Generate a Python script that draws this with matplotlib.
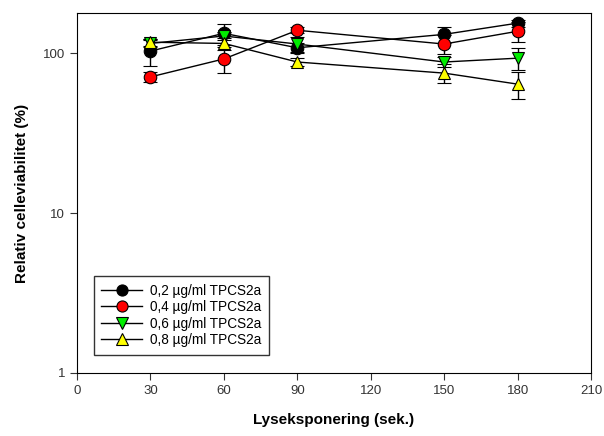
import numpy as np
import matplotlib.pyplot as plt
from matplotlib.ticker import FixedLocator, NullLocator
from matplotlib.lines import Line2D

plt.rcParams['font.family'] = ['Liberation Sans', 'DejaVu Sans']

x = [30, 60, 90, 150, 180]

c02 = [103, 133, 108, 131, 154]
c02_err = [20, 20, 8, 15, 8]
c04 = [71, 92, 139, 114, 137]
c04_err = [5, 17, 6, 15, 20]
c06 = [115, 128, 114, 88, 93]
c06_err = [6, 8, 12, 6, 14]
c08 = [117, 115, 88, 75, 64]
c08_err = [6, 10, 5, 10, 12]

labels = ["0,2 µg/ml TPCS2a", "0,4 µg/ml TPCS2a",
          "0,6 µg/ml TPCS2a", "0,8 µg/ml TPCS2a"]

fig = plt.figure(figsize=(6.04, 4.36), dpi=100)
ax = fig.add_axes([0.1275, 0.1445, 0.851, 0.8255])

series = [(c02, c02_err, 'o', 'black'),
          (c04, c04_err, 'o', 'red'),
          (c06, c06_err, 'v', '#00ee00'),
          (c08, c08_err, '^', 'yellow')]

handles = []
for (y, e, m, col), lab in zip(series, labels):
    ax.errorbar(x, y, yerr=e, fmt='-', color='black', lw=1,
                marker=m, markerfacecolor=col, markeredgecolor='black',
                markersize=9, markeredgewidth=0.8,
                ecolor='black', elinewidth=1, capsize=5, capthick=1)
    handles.append(Line2D([], [], color='black', lw=1, marker=m,
                          markerfacecolor=col, markeredgecolor='black',
                          markersize=8, markeredgewidth=0.8, label=lab))

ax.set_yscale('log')
ax.set_ylim(1, 178)
ax.set_xlim(0, 210)
ax.set_xticks([0, 30, 60, 90, 120, 150, 180, 210])
ax.yaxis.set_major_locator(FixedLocator([1, 10, 100]))
ax.yaxis.set_minor_locator(NullLocator())
ax.set_yticklabels(['1', '10', '100'])
ax.tick_params(direction='out', length=5, labelsize=9.5, colors='#333333')

ax.set_xlabel("Lyseksponering (sek.)", fontsize=11, fontweight='bold', labelpad=12)
ax.set_ylabel("Relativ celleviabilitet (%)", fontsize=11, fontweight='bold', labelpad=10)

leg = ax.legend(handles=handles, loc='lower left', bbox_to_anchor=(0.025, 0.04),
                fontsize=9.8, frameon=True, fancybox=False, edgecolor='black',
                handlelength=3.0, borderpad=0.55, labelspacing=0.18, handletextpad=0.6,
                borderaxespad=0.3)
leg.get_frame().set_linewidth(1)

plt.savefig("out.png", dpi=100)
